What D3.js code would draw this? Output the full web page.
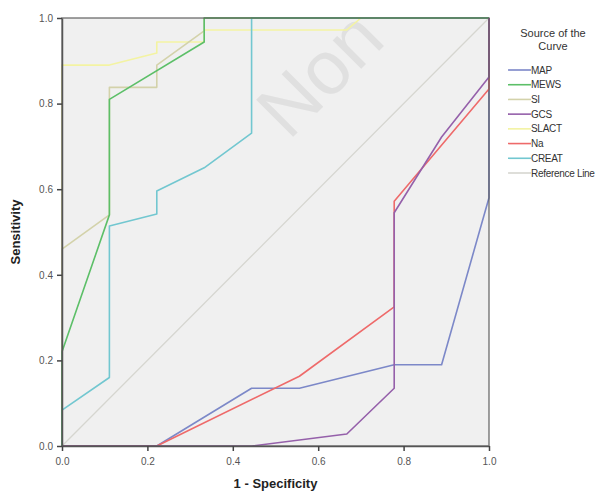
<!DOCTYPE html>
<html>
<head>
<meta charset="utf-8">
<script src="https://cdn.jsdelivr.net/npm/d3@7"></script>
<style>
  body { margin: 0; background: #fff; }
  text { font-family: "Liberation Sans", Arial, sans-serif; }
</style>
</head>
<body>
<svg id="chart" width="616" height="496"></svg>
<script>
// ROC curves, points are [1 - specificity, sensitivity]
const seriesNames = ["MAP", "MEWS", "SI", "GCS", "SLACT", "Na", "CREAT"];
const seriesColors = ["#7c88c8", "#5cbf68", "#d3d2aa", "#9560aa", "#f3f3a2", "#ee6a6a", "#72c7d0"];

const mapPts = [[0, 0], [0.222, 0], [0.444, 0.135], [0.556, 0.135], [0.778, 0.19], [0.889, 0.19], [1, 0.58], [1, 1]];
const mewsPts = [[0, 0], [0, 0.22], [0.111, 0.54], [0.111, 0.81], [0.333, 0.944], [0.333, 1], [1, 1]];
const siPts = [[0, 0], [0, 0.46], [0.111, 0.54], [0.111, 0.838], [0.222, 0.838], [0.222, 0.89], [0.333, 0.97], [0.333, 1], [1, 1]];
const gcsPts = [[0, 0], [0.444, 0], [0.667, 0.028], [0.778, 0.135], [0.778, 0.545], [0.889, 0.722], [1, 0.862], [1, 1]];
const slactPts = [[0, 0], [0, 0.89], [0.111, 0.89], [0.222, 0.918], [0.222, 0.944], [0.333, 0.944], [0.333, 0.972], [0.667, 0.972], [0.7, 1], [1, 1]];
const naPts = [[0, 0], [0.222, 0], [0.556, 0.163], [0.778, 0.325], [0.778, 0.572], [1, 0.834], [1, 1]];
const creatPts = [[0, 0], [0, 0.084], [0.111, 0.16], [0.111, 0.514], [0.222, 0.542], [0.222, 0.596], [0.333, 0.65], [0.444, 0.731], [0.444, 1], [1, 1]];
const refPts = [[0, 0], [1, 1]];

const xTicks = [0, 0.2, 0.4, 0.6, 0.8, 1.0];
const yTicks = [0, 0.2, 0.4, 0.6, 0.8, 1.0];

const allSeries = [mapPts, mewsPts, siPts, gcsPts, slactPts, naPts, creatPts];

const svg = d3.select("#chart");
const plotL = 62, plotR = 489, plotT = 18, plotB = 446;

const x = d3.scaleLinear().domain([0, 1]).range([plotL, plotR]);
const y = d3.scaleLinear().domain([0, 1]).range([plotB, plotT]);

// plot background
svg.append("rect")
  .attr("x", plotL).attr("y", plotT)
  .attr("width", plotR - plotL).attr("height", plotB - plotT)
  .attr("fill", "#f0f0f0");

// faint watermark
svg.append("text")
  .attr("transform", `translate(338,92) rotate(-45)`)
  .attr("text-anchor", "middle")
  .attr("font-size", 76)
  .attr("fill", "#e0e0e0")
  .text("Non");

const line = d3.line().x(d => x(d[0])).y(d => y(d[1]));

svg.append("path")
  .attr("d", line(refPts))
  .attr("fill", "none")
  .attr("stroke", "#d6d6d0")
  .attr("stroke-width", 1.3);

// draw order so MAP/GCS end on top like the original
const order = [4, 2, 6, 1, 0, 5, 3];
order.forEach(i => {
  svg.append("path")
    .attr("d", line(allSeries[i]))
    .attr("fill", "none")
    .attr("stroke", seriesColors[i])
    .attr("stroke-width", 1.6)
    .attr("stroke-linejoin", "round");
});

// frame
svg.append("rect")
  .attr("x", plotL).attr("y", plotT)
  .attr("width", plotR - plotL).attr("height", plotB - plotT)
  .attr("fill", "none")
  .attr("stroke", "#555")
  .attr("stroke-width", 1.5)
  .attr("stroke-opacity", 0.75);

const fmt = d3.format(".1f");

const xAxis = svg.append("g")
  .attr("transform", `translate(0,${plotB})`)
  .call(d3.axisBottom(x).tickValues(xTicks).tickFormat(fmt).tickSize(5).tickSizeOuter(0));
const yAxis = svg.append("g")
  .attr("transform", `translate(${plotL},0)`)
  .call(d3.axisLeft(y).tickValues(yTicks).tickFormat(fmt).tickSize(5).tickSizeOuter(0));

[xAxis, yAxis].forEach(g => {
  g.select(".domain").attr("stroke", "#555").attr("stroke-width", 1.5);
  g.selectAll(".tick line").attr("stroke", "#444").attr("stroke-width", 1.5);
  g.selectAll(".tick text")
    .attr("font-family", "Liberation Sans, Arial, sans-serif")
    .attr("font-size", 10)
    .attr("fill", "#555");
});
xAxis.selectAll(".tick text").attr("dy", "1.1em");
yAxis.selectAll(".tick text").attr("dx", "-0.1em");

// axis titles
svg.append("text")
  .attr("x", (plotL + plotR) / 2).attr("y", 488)
  .attr("text-anchor", "middle")
  .attr("font-size", 13).attr("font-weight", "bold")
  .attr("fill", "#222")
  .text("1 - Specificity");

svg.append("text")
  .attr("transform", `translate(20,${(plotT + plotB) / 2}) rotate(-90)`)
  .attr("text-anchor", "middle")
  .attr("font-size", 13).attr("font-weight", "bold")
  .attr("fill", "#222")
  .text("Sensitivity");

// legend
const legend = svg.append("g");
legend.append("text")
  .attr("x", 553).attr("y", 37)
  .attr("text-anchor", "middle")
  .attr("font-size", 11).attr("fill", "#333")
  .text("Source of the");
legend.append("text")
  .attr("x", 553).attr("y", 50)
  .attr("text-anchor", "middle")
  .attr("font-size", 11).attr("fill", "#333")
  .text("Curve");

const legendNames = seriesNames.concat(["Reference Line"]);
const legendColors = seriesColors.concat(["#d6d6d0"]);
const row = d3.scalePoint().domain(legendNames).range([70, 173]);

legendNames.forEach((name, i) => {
  legend.append("line")
    .attr("x1", 508).attr("x2", 531)
    .attr("y1", row(name)).attr("y2", row(name))
    .attr("stroke", legendColors[i])
    .attr("stroke-width", 1.6);
  legend.append("text")
    .attr("x", 531).attr("y", row(name) + 3.5)
    .attr("font-size", 10).attr("fill", "#333")
    .attr("letter-spacing", "-0.3")
    .text(name);
});
</script>
</body>
</html>
